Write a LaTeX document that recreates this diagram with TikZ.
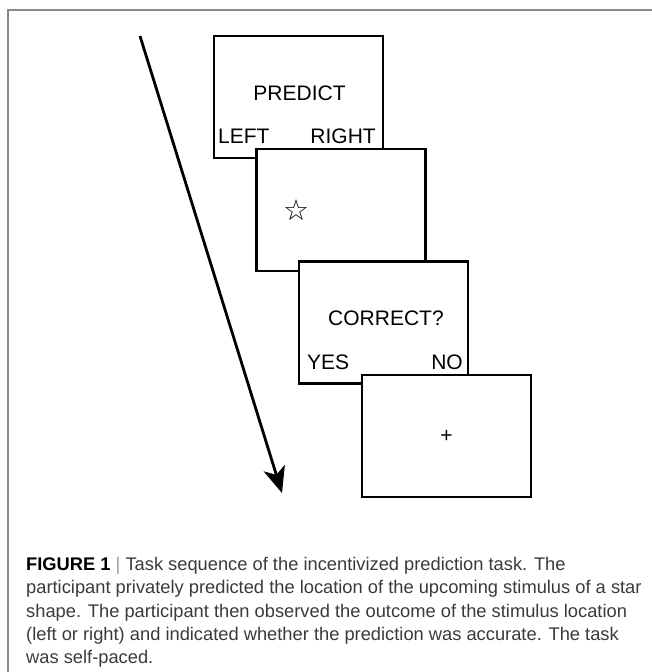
\documentclass[tikz,border=0pt]{standalone}
\usepackage{fontspec}
\setmainfont{Liberation Sans}
\newfontfamily\symfont{DejaVu Sans}
\usepackage{xcolor}
\usetikzlibrary{positioning,arrows.meta}

\definecolor{framegray}{HTML}{8A8A8A}
\definecolor{captiongray}{HTML}{3A3A3A}
\definecolor{bargray}{HTML}{9A9A9A}

\begin{document}
\begin{tikzpicture}[
    x=1pt, y=1pt,
    screen/.style={
        rectangle,
        draw=black,
        line width=2.6pt,
        fill=white,
        minimum width=169pt,
        minimum height=122pt,
        outer sep=0pt
    },
    prompt/.style={
        inner sep=0pt,
        font=\fontsize{21}{25}\selectfont
    },
    caption/.style={
        inner sep=0pt,
        anchor=north west,
        align=left,
        text=captiongray,
        font=\fontsize{18.3}{23.3}\selectfont
    }
]
    \useasboundingbox (0,0) rectangle (652,-672);

    % --- FRAME ---
    \draw [framegray, line width=1.2pt] (8,-672) -- (8,-10) -- (652,-10);

    % --- TIME ARROW ---
    \coordinate (timestart) at (140,-36);
    \coordinate (timeend) at (282,-493);
    \draw [line width=2.8pt, -{Stealth[length=26pt,width=22pt,inset=7pt]}] (timestart) -- (timeend);

    % --- SCREENS ---
    % 1. Prediction
    \node [screen] (predict) at (298.5,-97) {};
    \node [prompt, anchor=base] (predicttext) at ([shift={(1,-3)}]predict.center) {PREDICT};
    \node [prompt, anchor=base west] (lefttext) at ([shift={(4,15)}]predict.south west) {LEFT};
    \node [prompt, anchor=base east] (righttext) at ([shift={(-7,15)}]predict.south east) {RIGHT};

    % 2. Stimulus
    \node [screen] (stimulus) at (341,-210) {};
    \node [inner sep=0pt, font=\symfont\fontsize{29}{32}\selectfont] (star) at ([xshift=-45]stimulus.center) {☆};

    % 3. Feedback
    \node [screen] (feedback) at (383.5,-322.5) {};
    \node [prompt, anchor=base] (correcttext) at ([shift={(2.5,-2.5)}]feedback.center) {CORRECT?};
    \node [prompt, anchor=base west] (yestext) at ([shift={(8,14)}]feedback.south west) {YES};
    \node [prompt, anchor=base east] (notext) at ([shift={(-5,14)}]feedback.south east) {NO};

    % 4. Fixation
    \node [screen] (fixation) at (446.5,-436) {};
    \node [prompt] (cross) at (fixation.center) {+};

    % --- CAPTION ---
    \node [caption] (figcaption) at (26,-557) {%
        {\color{black}\bfseries FIGURE 1} {\color{bargray}|} Task sequence of the incentivized prediction task. The\\
        participant privately predicted the location of the upcoming stimulus of a star\\
        shape. The participant then observed the outcome of the stimulus location\\
        (left or right) and indicated whether the prediction was accurate. The task\\
        was self-paced.};

\end{tikzpicture}
\end{document}
